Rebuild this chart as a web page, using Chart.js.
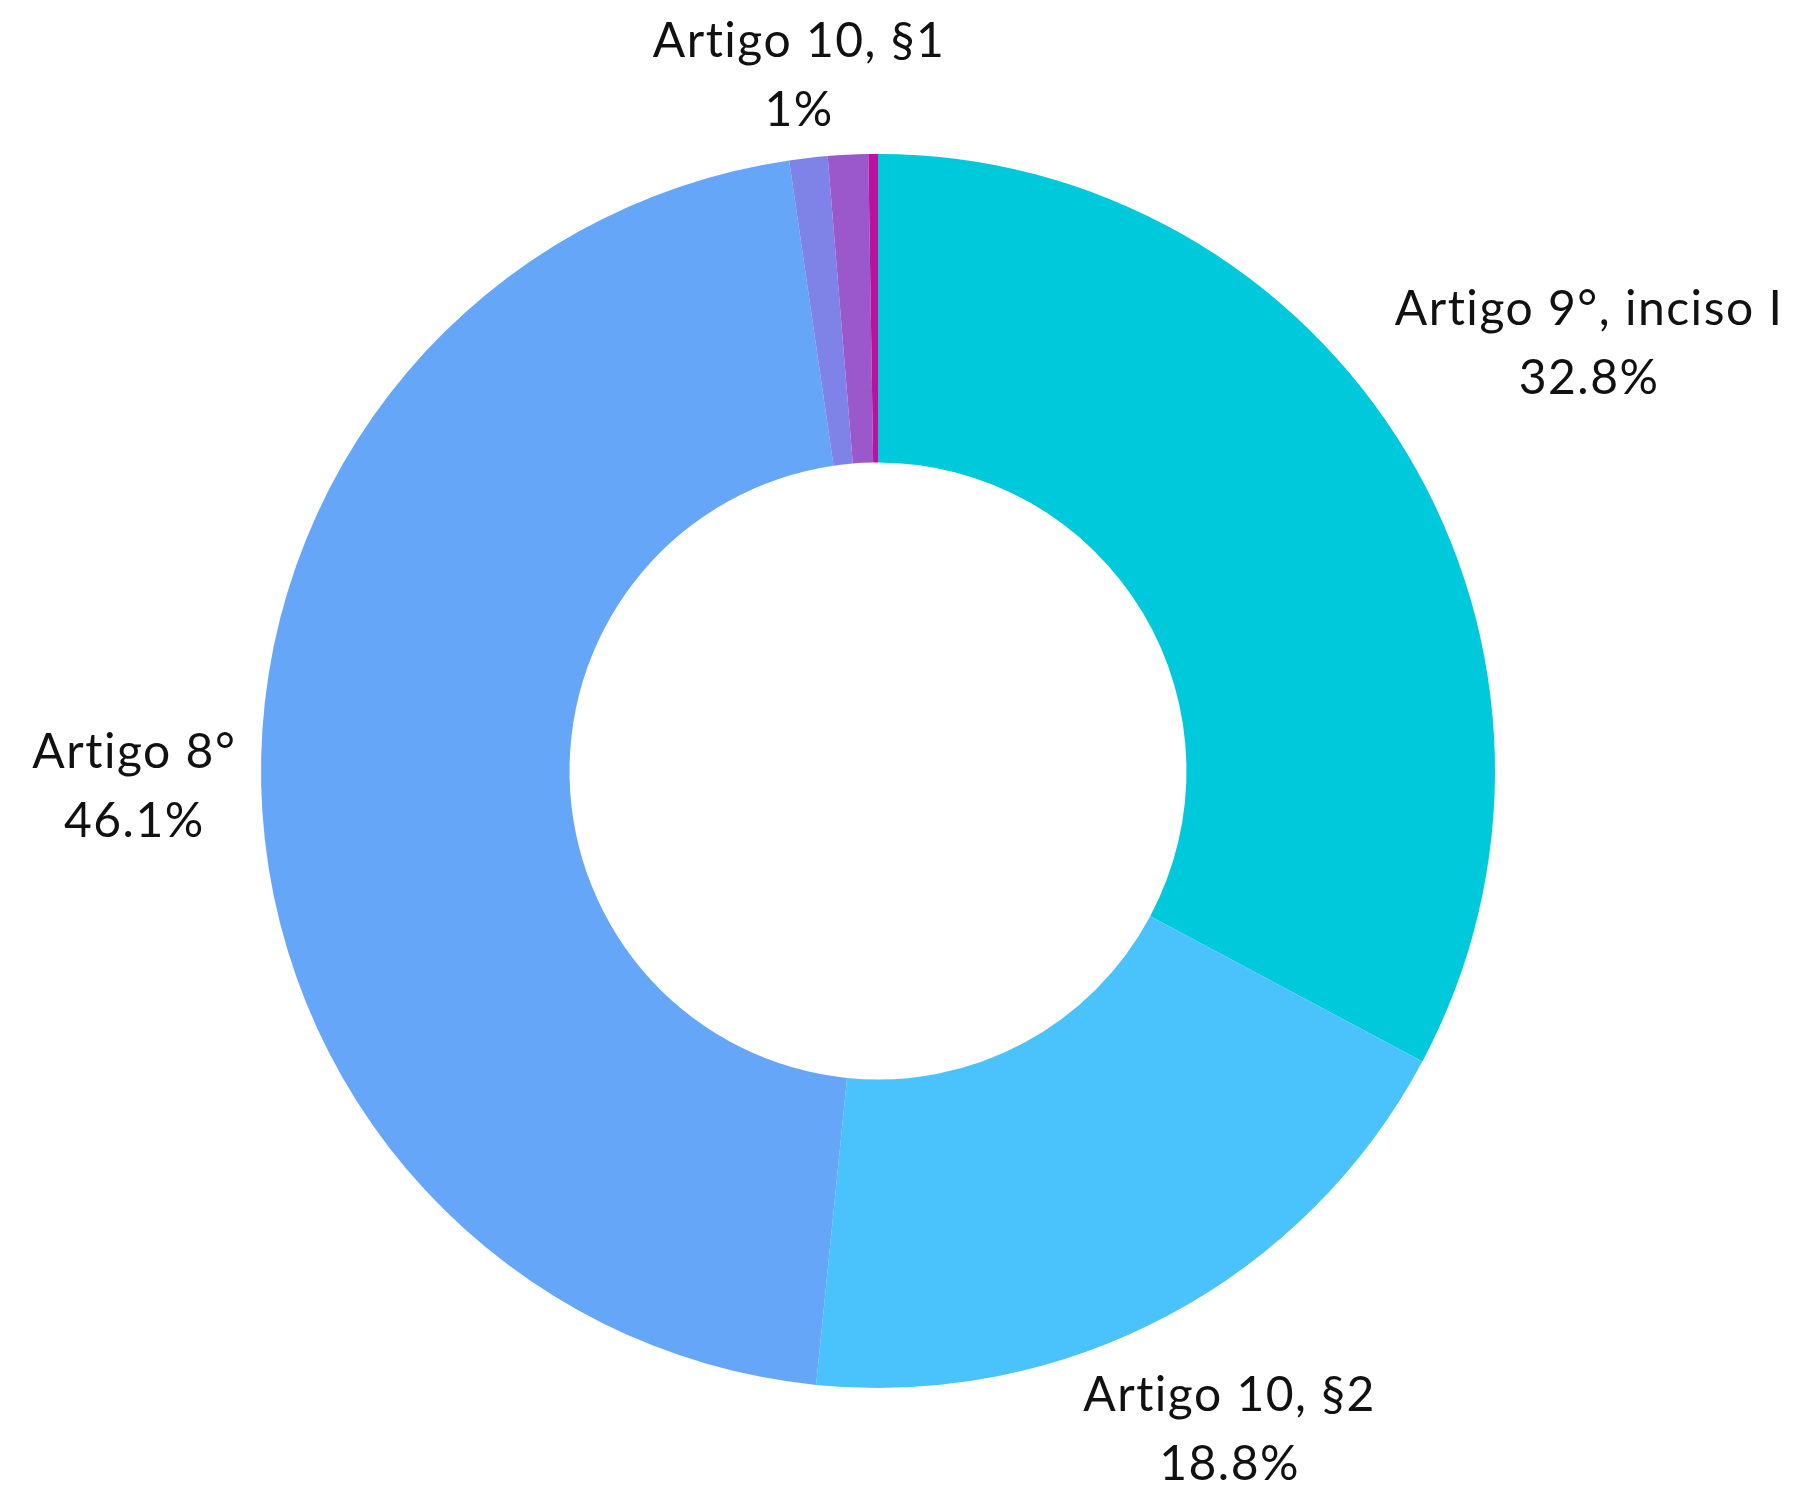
<!DOCTYPE html>
<html>
<head>
<meta charset="utf-8">
<script src="https://cdn.jsdelivr.net/npm/chart.js@4.4.1/dist/chart.umd.min.js"></script>
<style>
  html, body { margin: 0; padding: 0; background: #ffffff; }
  #chart { display: block; }
</style>
</head>
<body>
<canvas id="chart" width="1817" height="1492"></canvas>
<script>
// slices, clockwise from 12 o'clock
const categories = ['Artigo 9°, inciso I', 'Artigo 10, §2', 'Artigo 8°', 'Artigo 10, §1', 'Artigo 9°, inciso II', 'Artigo 10, §3'];
const shares = [32.8, 18.8, 46.1, 1.0, 1.05, 0.25];
const sliceColors = ['#00C9DC', '#4AC3FD', '#66A6F9', '#7F82E6', '#9B58CA', '#B9129F'];

const LABEL_FONT = '48px Lato, "Open Sans", sans-serif';
const LINE_H = 69;
const HALF_H = 42;   // half height used to push the label off the ring
const GAP = 24;

const fmtPct = (v) => {
    let s = v.toFixed(1);
    if (s.endsWith('.0')) s = s.slice(0, -2);
    return s + '%';
};

// draws "name / pct" outside each slice, skipping ones that would overlap
const outsideLabels = {
    id: 'outsideLabels',
    afterDatasetsDraw(chart) {
        const ctx = chart.ctx;
        const meta = chart.getDatasetMeta(0);
        const placed = [];
        ctx.save();
        ctx.font = LABEL_FONT;
        ctx.letterSpacing = '1.5px';
        ctx.fillStyle = '#111111';
        ctx.textAlign = 'center';
        ctx.textBaseline = 'middle';
        meta.data.forEach((arc, i) => {
            const p = arc.getProps(['x', 'y', 'startAngle', 'endAngle', 'outerRadius']);
            const mid = (p.startAngle + p.endAngle) / 2;
            const vx = Math.cos(mid), vy = Math.sin(mid);
            const lines = [categories[i], fmtPct(shares[i])];
            const w = Math.max(...lines.map(t => ctx.measureText(t).width));
            const h = LINE_H * lines.length;
            const d = p.outerRadius + GAP + Math.abs(w / 2 * vx) + Math.abs(HALF_H * vy);
            const cx = p.x + d * vx, cy = p.y + d * vy;
            const box = { l: cx - w / 2, r: cx + w / 2, t: cy - h / 2, b: cy + h / 2 };
            const hit = placed.some(o => box.l < o.r && box.r > o.l && box.t < o.b && box.b > o.t);
            if (hit) return;
            placed.push(box);
            lines.forEach((t, k) => {
                ctx.fillText(t, cx, cy - h / 2 + LINE_H * (k + 0.5));
            });
        });
        ctx.restore();
    }
};

new Chart(document.getElementById('chart'), {
    type: 'doughnut',
    data: {
        labels: categories,
        datasets: [{
            data: shares,
            backgroundColor: sliceColors,
            borderWidth: 0
        }]
    },
    options: {
        responsive: false,
        animation: false,
        cutout: '50%',
        layout: {
            padding: { top: 154, bottom: 104, left: 261, right: 322 }
        },
        plugins: {
            legend: { display: false },
            tooltip: { enabled: false }
        }
    },
    plugins: [outsideLabels]
});
</script>
</body>
</html>
